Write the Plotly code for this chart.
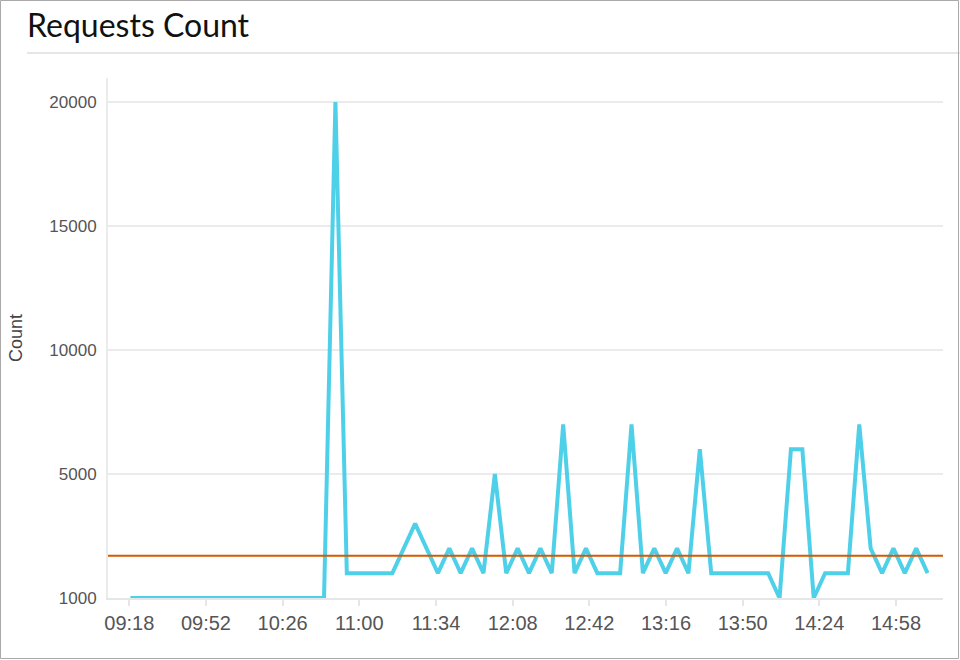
import pandas as pd
import plotly.graph_objects as go

# ---- data ----
start_time = "2020-01-01 09:18:30"
step_seconds = 303  # ~5 min sampling
counts = [
    0, 0, 0, 0, 0, 0, 0, 0, 0, 0, 0, 0, 0, 0, 0, 0, 0, 0,
    20000, 1000, 1000, 1000, 1000, 1000, 2000, 3000, 2000, 1000,
    2000, 1000, 2000, 1000, 5000, 1000, 2000, 1000, 2000, 1000,
    7000, 1000, 2000, 1000, 1000, 1000, 7000, 1000, 2000, 1000,
    2000, 1000, 6000, 1000, 1000, 1000, 1000, 1000, 1000, 0,
    6000, 6000, 0, 1000, 1000, 1000, 7000, 2000, 1000, 2000,
    1000, 2000, 1000,
]
x_tick_labels = ["09:18", "09:52", "10:26", "11:00", "11:34", "12:08",
                 "12:42", "13:16", "13:50", "14:24", "14:58"]
y_tick_vals = [0, 5000, 10000, 15000, 20000]
y_tick_text = ["1000", "5000", "10000", "15000", "20000"]

times = pd.date_range(start=start_time, periods=len(counts), freq=f"{step_seconds}s")
tick_vals = [pd.Timestamp("2020-01-01 " + t) for t in x_tick_labels]
avg = sum(counts) / len(counts)

# ---- layout geometry ----
W, H = 960, 660
L, R, T, B = 108, 17, 78, 62
pw, ph = W - L - R, H - T - B


def px(xpix):
    return (xpix - L) / pw


def py(ypix):
    return (H - B - ypix) / ph


fig = go.Figure()
fig.add_trace(go.Scatter(
    x=times, y=counts, mode="lines",
    line=dict(color="#4fd0e9", width=4),
    hoverinfo="x+y", showlegend=False,
))

shapes = [
    # average line
    dict(type="line", xref="paper", yref="y", x0=0, x1=1, y0=avg, y1=avg,
         line=dict(color="#d45a00", width=2), layer="above"),
    # separator under title
    dict(type="line", xref="paper", yref="paper", x0=px(27), x1=px(960),
         y0=py(53), y1=py(53), line=dict(color="#e6e6e6", width=2)),
    # outer border
    dict(type="rect", xref="paper", yref="paper", x0=px(0.5), x1=px(958.5),
         y0=py(658.5), y1=py(0.5), line=dict(color="#a9a9a9", width=1)),
]

fig.update_layout(
    width=W, height=H,
    margin=dict(l=L, r=R, t=T, b=B),
    paper_bgcolor="white", plot_bgcolor="white",
    title=dict(text="Requests Count", xref="container", yref="container",
               x=27 / W, xanchor="left", y=1 - 26 / H, yanchor="middle",
               font=dict(family="Lato, Liberation Sans, sans-serif", size=32, color="#111111")),
    shapes=shapes,
    xaxis=dict(
        type="date",
        range=[pd.Timestamp("2020-01-01 09:08:33"), pd.Timestamp("2020-01-01 15:18:50")],
        tickvals=tick_vals, ticktext=x_tick_labels,
        showgrid=False, zeroline=False,
        showline=True, linecolor="#e6e6e6", linewidth=2,
        ticks="outside", ticklen=6, tickwidth=2, tickcolor="#e6e6e6",
        tickfont=dict(family="Liberation Sans, Arial, sans-serif", size=20, color="#555555"),
    ),
    yaxis=dict(
        range=[0, 20968],
        tickvals=y_tick_vals, ticktext=y_tick_text,
        showgrid=True, gridcolor="#ebebeb", gridwidth=2,
        zeroline=False,
        showline=True, linecolor="#ebebeb", linewidth=2,
        ticks="", ticklabelstandoff=6,
        tickfont=dict(family="Liberation Sans, Arial, sans-serif", size=17, color="#555555"),
        title=dict(text="Count", standoff=22,
                   font=dict(family="Liberation Sans, Arial, sans-serif", size=18, color="#444444")),
    ),
)

fig.write_html("out.html", config={"displayModeBar": False},
               post_script="document.body.style.margin='0';")
